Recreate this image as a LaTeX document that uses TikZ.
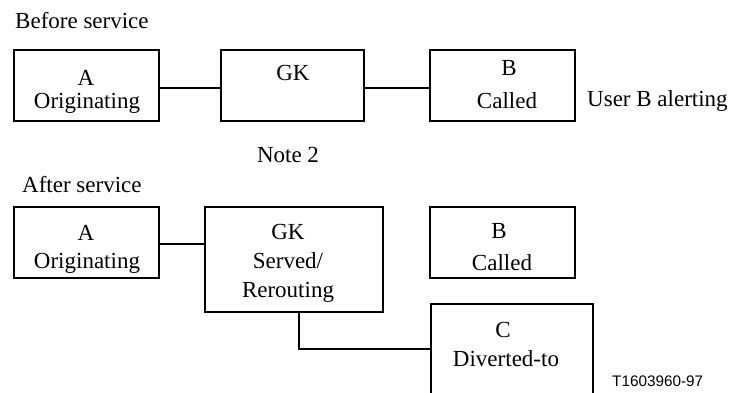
\documentclass[tikz,border=0pt]{standalone}
\usepackage{fontspec}
\setmainfont{Liberation Serif}
\newfontfamily\tsans{Liberation Sans}
\begin{document}
\begin{tikzpicture}[x=1pt,y=-1pt,
  box/.style={draw,line width=1.1pt,rectangle,inner sep=0pt},
  conn/.style={line width=1.1pt},
  txt/.style={anchor=base,inner sep=0pt,font=\fontsize{23}{28}\selectfont},
  ltxt/.style={anchor=base west,inner sep=0pt,font=\fontsize{23}{28}\selectfont}]
\useasboundingbox (0,0) rectangle (732,392);
\clip (0,0) rectangle (732,392);
% Before service
\node[ltxt] (before) at (15,28) {Before service};
\node[box,minimum width=145pt,minimum height=71pt] (a1) at (86.5,85.5) {};
\node[box,minimum width=143pt,minimum height=71pt] (gk1) at (292.5,85.5) {};
\node[box,minimum width=145pt,minimum height=71pt] (b1) at (502.5,85.5) {};
\node[txt] (a1t) at (86,85) {A};
\node[txt] (a1o) at (87,108) {Originating};
\node[txt] (gk1t) at (293,80) {GK};
\node[txt] (b1t) at (509,75) {B};
\node[txt] (b1c) at (507,108) {Called};
\node[ltxt] (alert) at (587,106) {User B alerting};
\node[txt] (note) at (288,162) {Note 2};
\draw[conn] (a1.east |- 0,88) -- (gk1.west |- 0,88);
\draw[conn] (gk1.east |- 0,88) -- (b1.west |- 0,88);
% After service
\node[ltxt] (after) at (22,192) {After service};
\node[box,minimum width=145pt,minimum height=71pt] (a2) at (86.5,242.5) {};
\node[box,minimum width=178pt,minimum height=105pt] (gk2) at (294,259.5) {};
\node[box,minimum width=145pt,minimum height=71pt] (b2) at (502.5,242.5) {};
\node[box,minimum width=162pt,minimum height=120pt] (c2) at (512,364) {};
\node[txt] (a2t) at (86,240) {A};
\node[txt] (a2o) at (87,268) {Originating};
\node[txt] (gk2t) at (288,239) {GK};
\node[txt] (gk2s) at (288,268) {Served/};
\node[txt] (gk2r) at (288,297) {Rerouting};
\node[txt] (b2t) at (499,238) {B};
\node[txt] (b2c) at (502,270) {Called};
\node[txt] (c2t) at (503,337) {C};
\node[txt] (c2d) at (506,366) {Diverted-to};
\draw[conn] (a2.east |- 0,244) -- (gk2.west |- 0,244);
\coordinate (bend) at (299,349);
\draw[conn] (gk2.south -| bend) -- (bend) -- (c2.west |- bend);
\node[anchor=base west,inner sep=0pt,font=\tsans\fontsize{15.3}{18}\selectfont] (tnum) at (612,386) {T1603960-97};
\end{tikzpicture}
\end{document}
